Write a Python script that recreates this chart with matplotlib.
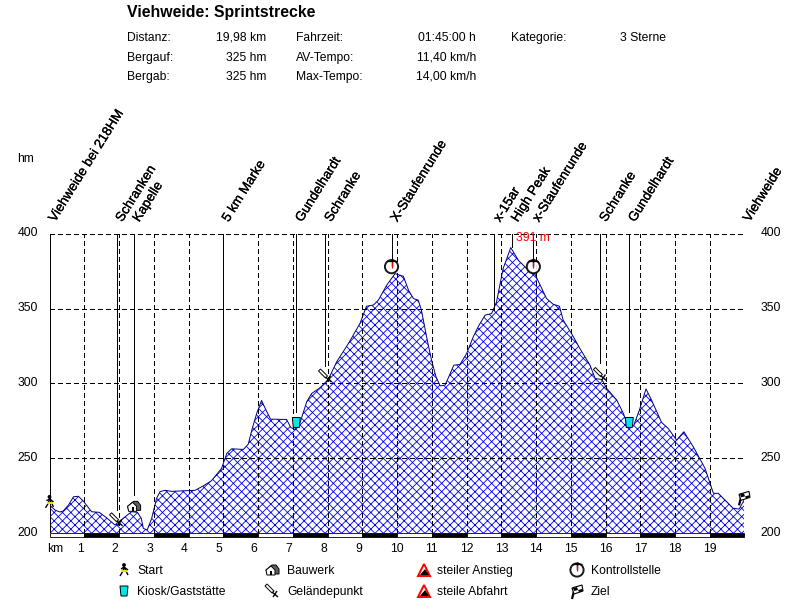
import matplotlib
matplotlib.use('Agg')
import matplotlib.pyplot as plt
import matplotlib.patheffects as pe
from matplotlib.patches import Polygon, Circle, Rectangle
from matplotlib.lines import Line2D
from matplotlib.transforms import Affine2D

W, H = 793, 608
plt.rcParams['font.family'] = ['Liberation Sans', 'DejaVu Sans']
plt.rcParams['hatch.linewidth'] = 0.6
plt.rcParams['hatch.color'] = '#0000f0'

# Elevation profile
km = [0, 0.16, 0.30, 0.40, 0.55, 0.69, 0.83, 0.97, 1.21, 1.43, 1.64, 1.88, 2.0, 2.12, 2.36, 2.53, 2.64, 2.70,
      2.81, 2.94, 3.08, 3.18, 3.32, 3.51, 4.19, 4.42, 4.66, 4.95, 5.1, 5.24, 5.58, 5.72, 5.82, 5.96, 6.1, 6.23,
      6.36, 6.82, 6.94, 7.06, 7.2, 7.4, 7.54, 7.78, 8.02, 8.26, 8.6, 8.93, 9.12, 9.32, 9.46, 9.70, 9.94, 10.18,
      10.33, 10.47, 10.61, 10.70, 10.85, 10.99, 11.12, 11.24, 11.38, 11.52, 11.63, 11.81, 12.0, 12.19, 12.34,
      12.53, 12.72, 12.86, 13.05, 13.27, 13.49, 13.73, 13.96, 14.3, 14.49, 14.67, 14.78, 15.02, 15.26, 15.55,
      15.70, 15.89, 16.03, 16.32, 16.51, 16.65, 16.80, 16.97, 17.16, 17.32, 17.61, 17.80, 18.04, 18.25, 18.52,
      18.86, 19.1, 19.24, 19.67, 19.84, 19.96, 19.98]
hm = [219, 215.5, 214.2, 215, 219, 224.4, 224.7, 221.6, 214.4, 214, 210.4, 205.6, 207.8, 210, 214.4, 214, 210, 203.3,
      202.2, 210, 223.3, 227.8, 228.7, 228, 228.7, 231.6, 235.1, 243.3, 253.3, 256.4, 256, 259.6, 268.9, 280, 288.7, 282.2,
      276.2, 276, 270.7, 269.3, 273.3, 287.8, 293.3, 297.1, 302.7, 314.4, 326.7, 340, 351.6, 352.4, 355.6, 365.6, 373.3, 371.6,
      362.2, 356.7, 355.6, 348.9, 331, 315.6, 304.4, 298.4, 298.9, 306.2, 312.2, 312.7, 320, 331.1, 338.2,
      345.6, 346.7, 354.4, 376.7, 390.7, 382.2, 376.7, 373.3, 356.7, 352.9, 351.6, 342.2, 333.3, 323.3, 312.2,
      303.3, 302.7, 296.7, 288.9, 280, 270.7, 271.6, 282.2, 296.4, 288.9, 274, 270, 262.2, 267.8, 257.8,
      243.3, 226.7, 226.7, 216.7, 216.2, 221.1, 222]

# Points of interest along the route
poi_km = [0, 1.93, 2.42, 4.99, 7.1, 7.94, 9.84, 12.8, 13.31, 13.92, 15.85, 16.68, 19.98]
poi_top = [200, 215.5, 225.5, 249, 281, 312, 383.5, 349, 391, 383.5, 313.5, 281, 200]
poi_names = ['Viehweide bei 218HM', 'Schranken', 'Kapelle', '5 km Marke', 'Gundelhardt', 'Schranke', 'X-Staufenrunde',
             'x-15ar', 'High Peak', 'x-Staufenrunde', 'Schranke', 'Gundelhardt', 'Viehweide']
poi_icons = ['start', 'point', 'house', None, 'kiosk', 'point', 'watch', None, None, 'watch', 'point', 'kiosk', 'flag']
poi_icon_hm = [221, 209, 218, None, 274, 305, 378, None, None, 378, 306, 274, 224]

y_ticks = [200, 250, 300, 350, 400]
km_ticks = list(range(1, 20))
max_km = 19.98

fig = plt.figure(figsize=(W / 100, H / 100), dpi=100, facecolor='white')
ax = fig.add_axes([49.5 / W, 1 - 533.3 / H, 694.5 / W, 299.6 / H])
ax.set_xlim(0, max_km)
ax.set_ylim(200, 400)
ax.axis('off')

ax.fill_between(km, hm, 200, facecolor='white', edgecolor='#0000f0', hatch='xxxx', linewidth=0, zorder=1)
ax.plot(km, hm, color='#000080', lw=0.7, zorder=2)

dash = (0, (5, 3))
for k in km_ticks:
    ax.plot([k, k], [200, 400], color='black', lw=0.72, ls=dash, antialiased=False, zorder=3)
for y in y_ticks[1:]:
    ax.plot([0, max_km], [y, y], color='black', lw=0.72, ls=dash, antialiased=False, zorder=3)

# Alternating km strip under the profile
for k in range(0, 20):
    x1 = min(k + 1, max_km)
    ax.add_patch(Rectangle((k, 197.3), x1 - k, 2.7, facecolor='black' if k % 2 else 'white',
                           edgecolor='black', lw=0.6, clip_on=False, zorder=4))

for x, top in zip(poi_km, poi_top):
    ax.plot([x, x], [top, 400], color='black', lw=0.7, antialiased=False, solid_capstyle='butt', zorder=5)


def put(x, y, s, **kw):
    kw.setdefault('fontsize', 8.7)
    kw.setdefault('va', 'center')
    return fig.text(x / W, 1 - (y + 0.7) / H, s, color=kw.pop('color', 'black'), **kw)


def icon(kind, px, py):
    # px, py in image pixels, icon drawn around that centre
    t = Affine2D().scale(1, -1).translate(px, H - py)
    arts = []
    if kind == 'start':
        arts.append(Line2D([-4, -1, 0, 4], [6, 1, -3, 0], color='black', lw=1))
        arts.append(Line2D([-3, 0, 4], [-1, -3, 5], color='black', lw=1))
        arts.append(Line2D([-3, 3], [1, 1], color='#f0e000', lw=1.4))
        arts.append(Circle((0, -5), 1.2, color='black'))
    elif kind == 'house':
        arts.append(Polygon([(-6, 0), (0, -5), (4, -5), (7, -1), (7, 4), (-5, 4)], fc='#606060', ec='black', lw=0.7))
        arts.append(Polygon([(-6, 0), (-1, -4), (3, 0), (3, 5), (-5, 5)], fc='white', ec='black', lw=0.7))
        arts.append(Rectangle((-2, 1), 2, 4, fc='black', ec='none'))
    elif kind == 'kiosk':
        arts.append(Polygon([(-4, -5), (4, -5), (3, 5), (-3, 5)], fc='#00e8e8', ec='black', lw=0.7))
    elif kind == 'point':
        arts.append(Polygon([(-7, -5), (-5, -7), (2, 0), (0, 2)], fc='white', ec='black', lw=0.7))
        arts.append(Line2D([0, 6], [1, 6], color='black', lw=1))
        arts.append(Line2D([5, 1], [0, 6], color='black', lw=1))
    elif kind == 'watch':
        arts.append(Circle((0, 0), 6.6, fc='white', ec='black', lw=1.4, alpha=0.9))
        arts.append(Line2D([0, 0], [-8.5, -1], color='black', lw=1))
        arts.append(Line2D([0, 0], [-5, 1], color='red', lw=0.9))
        arts.append(Line2D([-5, 5], [-6, -6], color='black', lw=0.9))
    elif kind == 'flag':
        arts.append(Line2D([-2, -5], [-4, 8], color='black', lw=1.6))
        arts.append(Polygon([(-5, -3), (5, -6), (6, 0), (-3, 3)], fc='white', ec='black', lw=0.8))
        arts.append(Polygon([(-4, -3), (0, -4), (1, -1), (-3, 0)], fc='black', ec='none'))
        arts.append(Polygon([(1, -1), (5, -2), (6, 0), (2, 1)], fc='black', ec='none'))
    elif kind in ('climb', 'descent'):
        arts.append(Polygon([(-6, 6), (0, -6), (6, 6)], fc='white', ec='red', lw=1.4))
        arts.append(Polygon([(-4, 5), (1, -1), (5, 5)], fc='black', ec='none'))
    for a in arts:
        a.set_zorder(8)
        a.set_clip_on(False)
        if isinstance(a, Line2D):
            a.set_solid_capstyle('butt')
        fig.add_artist(a)
        a.set_transform(t)


for x, y, kind in zip(poi_km, poi_icon_hm, poi_icons):
    if kind is not None:
        px, py = ax.transData.transform((x, y))
        icon(kind, px, H - py)

# Header
put(127, 12, 'Viehweide: Sprintstrecke', fontsize=11.4, fontweight='bold')
for y, a, b, c, d in [(37, 'Distanz:', '19,98 km', 'Fahrzeit:', '01:45:00 h'),
                      (57, 'Bergauf:', '325 hm', 'AV-Tempo:', '11,40 km/h'),
                      (76, 'Bergab:', '325 hm', 'Max-Tempo:', '14,00 km/h')]:
    put(127, y, a)
    put(266, y, b, ha='right')
    put(296, y, c)
    put(476, y, d, ha='right')
put(511, 37, 'Kategorie:')
put(620, 37, '3 Sterne')

# Axis labels
put(17, 158, 'hm')
put(47, 548, 'km')
for v in y_ticks:
    py = H - ax.transData.transform((0, v))[1]
    put(38, py - 1, str(v), ha='right')
    put(781, py - 1, str(v), ha='right')
for k in km_ticks:
    px = ax.transData.transform((k, 200))[0]
    put(px - (4 if k < 10 else 0), 548, str(k), ha='center')

# Rotated POI names
for x, name in zip(poi_km, poi_names):
    px = ax.transData.transform((x, 400))[0]
    fig.text((px + 3) / W, 1 - 221 / H, name, rotation=58, rotation_mode='anchor', ha='left', va='center',
             fontsize=9.6, color='black', path_effects=[pe.withStroke(linewidth=0.2, foreground='black')])

# Peak label
put(516, 237, '391 m', color='red')

# Legend
legend_names = ['Start', 'Kiosk/Gaststätte', 'Bauwerk', 'Geländepunkt', 'steiler Anstieg', 'steile Abfahrt',
                'Kontrollstelle', 'Ziel']
legend_icons = ['start', 'kiosk', 'house', 'point', 'climb', 'descent', 'watch', 'flag']
legend_icon_x = [124, 124, 272, 272, 424, 424, 577, 577]
legend_text_x = [137, 137, 287, 287, 437, 437, 591, 591]
legend_y = [570, 591, 570, 591, 570, 591, 570, 591]
for name, kind, ix, tx, y in zip(legend_names, legend_icons, legend_icon_x, legend_text_x, legend_y):
    icon(kind, ix, y)
    put(tx, y, name)

fig.savefig('out.png', dpi=100, facecolor='white')
